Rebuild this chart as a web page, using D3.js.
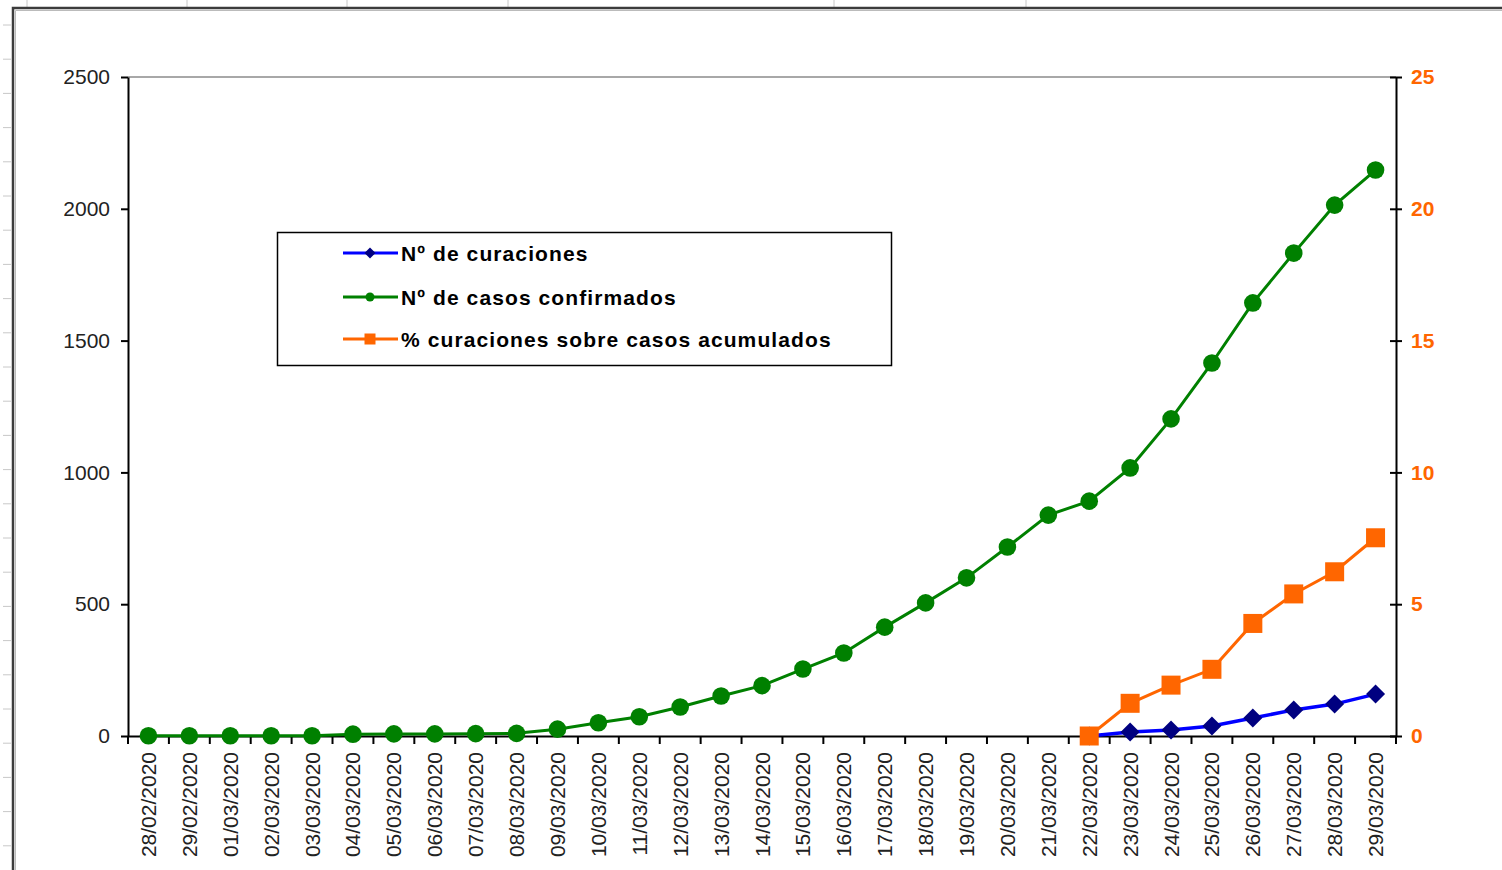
<!DOCTYPE html>
<html>
<head>
<meta charset="utf-8">
<script src="https://cdn.jsdelivr.net/npm/d3@7"></script>
<style>
  html, body { margin: 0; padding: 0; background: #fff; }
  svg { display: block; }
</style>
</head>
<body>
<svg id="chart" width="1502" height="870"></svg>
<script>
// ---------- DATA ----------
const dates = [
  "28/02/2020","29/02/2020","01/03/2020","02/03/2020","03/03/2020","04/03/2020",
  "05/03/2020","06/03/2020","07/03/2020","08/03/2020","09/03/2020","10/03/2020",
  "11/03/2020","12/03/2020","13/03/2020","14/03/2020","15/03/2020","16/03/2020",
  "17/03/2020","18/03/2020","19/03/2020","20/03/2020","21/03/2020","22/03/2020",
  "23/03/2020","24/03/2020","25/03/2020","26/03/2020","27/03/2020","28/03/2020",
  "29/03/2020"
];
const casosConfirmados = [
  1, 1, 1, 1, 1, 7, 8, 8, 9, 10, 26, 50, 73, 110, 152, 191, 254, 315,
  413, 505, 600, 717, 838, 891, 1017, 1203, 1415, 1643, 1832, 2014, 2147
];
const curaciones = [
  null, null, null, null, null, null, null, null, null, null, null, null,
  null, null, null, null, null, null, null, null, null, null, null, 0,
  15, 23, 38, 68, 99, 121, 159
];
const pctCuraciones = [
  null, null, null, null, null, null, null, null, null, null, null, null,
  null, null, null, null, null, null, null, null, null, null, null, 0,
  1.24, 1.93, 2.53, 4.27, 5.39, 6.23, 7.52
];
const leftTicks = [0, 500, 1000, 1500, 2000, 2500];
const rightTicks = [0, 5, 10, 15, 20, 25];
const legendLabels = ["Nº de curaciones", "Nº de casos confirmados", "% curaciones sobre casos acumulados"];

// ---------- STYLE ----------
const GREEN = "#008000", BLUE_LINE = "#0000ff", BLUE_MARK = "#000080", ORANGE = "#ff6600";
const FONT = "'Liberation Sans', Arial, sans-serif";

const svg = d3.select("#chart");

// spreadsheet background: column/row marks and chart frame
const frame = svg.append("g");
[27, 187, 347, 508, 834, 1026].forEach(x => {
  frame.append("line").attr("x1", x).attr("x2", x).attr("y1", 0).attr("y2", 7)
    .attr("stroke", "#c8c8c8").attr("stroke-width", 1);
});
for (let k = 0; k < 25; k++) {
  const y = 25 + k * 34.2;
  frame.append("line").attr("x1", 3).attr("x2", 11).attr("y1", y).attr("y2", y)
    .attr("stroke", "#c8c8c8").attr("stroke-width", 1);
}
frame.append("path").attr("d", "M13,870 L13,8 L1502,8")
  .attr("fill", "none").attr("stroke", "#3c3c3c").attr("stroke-width", 2.5);
frame.append("path").attr("d", "M15.5,870 L15.5,10.5 L1502,10.5")
  .attr("fill", "none").attr("stroke", "#bbbbbb").attr("stroke-width", 1);

// ---------- SCALES ----------
const L = 128, R = 1396, T = 77, B = 736;
const x = d3.scaleBand().domain(dates).range([L, R]).padding(0);
const cx = d => x(d) + x.bandwidth() / 2;
const yL = d3.scaleLinear().domain([0, 2500]).range([B, T]);
const yR = d3.scaleLinear().domain([0, 25]).range([B, T]);

// plot area top border
svg.append("line").attr("x1", L).attr("x2", R).attr("y1", T).attr("y2", T)
  .attr("stroke", "#a8a8a8").attr("stroke-width", 2);

// ---------- AXES ----------
const gL = svg.append("g").attr("transform", `translate(${L},0)`)
  .call(d3.axisLeft(yL).tickValues(leftTicks).tickFormat(d3.format("d"))
    .tickSize(7).tickSizeOuter(0).tickPadding(11));
gL.select(".domain").attr("stroke", "#000").attr("stroke-width", 2);
gL.selectAll(".tick line").attr("stroke", "#000").attr("stroke-width", 2);
gL.selectAll(".tick text").attr("font-family", FONT).attr("font-size", 21).attr("fill", "#222");

const gR = svg.append("g").attr("transform", `translate(${R},0)`)
  .call(d3.axisRight(yR).tickValues(rightTicks).tickFormat(d3.format("d"))
    .tickSize(6).tickSizeOuter(0).tickPadding(9));
gR.select(".domain").attr("stroke", "#000").attr("stroke-width", 2);
gR.selectAll(".tick line").attr("x1", -6).attr("stroke", "#000").attr("stroke-width", 2);
gR.selectAll(".tick text").attr("font-family", FONT).attr("font-size", 21)
  .attr("font-weight", "bold").attr("fill", ORANGE);

// bottom axis with ticks between categories
const gB = svg.append("g").attr("transform", `translate(0,${B})`)
  .call(d3.axisBottom(x).tickSize(0).tickSizeOuter(0).tickPadding(0));
gB.select(".domain").attr("stroke", "#000").attr("stroke-width", 2);
gB.selectAll(".tick text")
  .attr("font-family", FONT).attr("font-size", 21).attr("fill", "#222")
  .attr("text-anchor", "end").attr("dominant-baseline", "central")
  .attr("transform", "translate(0,16) rotate(-90)").attr("dy", null).attr("y", 0);
const bounds = dates.map(d => x(d)).concat([R]);
gB.selectAll(".bt").data(bounds).enter().append("line")
  .attr("x1", d => d).attr("x2", d => d).attr("y1", 0).attr("y2", 8)
  .attr("stroke", "#000").attr("stroke-width", 2);

// ---------- SERIES ----------
const lineL = d3.line().defined(v => v != null).x((v, i) => cx(dates[i])).y(v => yL(v));
const lineR = d3.line().defined(v => v != null).x((v, i) => cx(dates[i])).y(v => yR(v));

const pts = arr => arr.map((v, i) => ({ v, d: dates[i] })).filter(p => p.v != null);

// green
svg.append("path").datum(casosConfirmados).attr("d", lineL)
  .attr("fill", "none").attr("stroke", GREEN).attr("stroke-width", 3);
svg.append("g").selectAll("circle").data(pts(casosConfirmados)).enter().append("circle")
  .attr("cx", p => cx(p.d)).attr("cy", p => yL(p.v)).attr("r", 8.8).attr("fill", GREEN);

// blue
svg.append("path").datum(curaciones).attr("d", lineL)
  .attr("fill", "none").attr("stroke", BLUE_LINE).attr("stroke-width", 3.5);
const diamond = (s) => `M0,${-s} L${s},0 L0,${s} L${-s},0 Z`;
svg.append("g").selectAll("path").data(pts(curaciones)).enter().append("path")
  .attr("d", diamond(9.5))
  .attr("transform", p => `translate(${cx(p.d)},${yL(p.v)})`).attr("fill", BLUE_MARK);

// orange
svg.append("path").datum(pctCuraciones).attr("d", lineR)
  .attr("fill", "none").attr("stroke", ORANGE).attr("stroke-width", 3);
svg.append("g").selectAll("rect").data(pts(pctCuraciones)).enter().append("rect")
  .attr("x", p => cx(p.d) - 9.5).attr("y", p => yR(p.v) - 9.5)
  .attr("width", 19).attr("height", 19).attr("fill", ORANGE);

// ---------- LEGEND ----------
const lg = svg.append("g");
lg.append("rect").attr("x", 277.5).attr("y", 232.5).attr("width", 614).attr("height", 133)
  .attr("fill", "#fff").attr("stroke", "#000").attr("stroke-width", 1.5);
const legendRows = [
  { y: 253, line: BLUE_LINE, mark: BLUE_MARK, type: "diamond" },
  { y: 297, line: GREEN, mark: GREEN, type: "circle" },
  { y: 339, line: ORANGE, mark: ORANGE, type: "square" }
];
legendRows.forEach((r, i) => {
  lg.append("line").attr("x1", 343).attr("x2", 398).attr("y1", r.y).attr("y2", r.y)
    .attr("stroke", r.line).attr("stroke-width", 3);
  if (r.type === "diamond") {
    lg.append("path").attr("d", diamond(5.5)).attr("transform", `translate(370,${r.y})`).attr("fill", r.mark);
  } else if (r.type === "circle") {
    lg.append("circle").attr("cx", 370).attr("cy", r.y).attr("r", 4.5).attr("fill", r.mark);
  } else {
    lg.append("rect").attr("x", 364.5).attr("y", r.y - 5.5).attr("width", 11).attr("height", 11).attr("fill", r.mark);
  }
  lg.append("text").attr("x", 401).attr("y", r.y).attr("dominant-baseline", "central")
    .attr("font-family", FONT).attr("font-size", 21).attr("font-weight", "bold")
    .attr("letter-spacing", 1.1).attr("fill", "#000").text(legendLabels[i]);
});
</script>
</body>
</html>
